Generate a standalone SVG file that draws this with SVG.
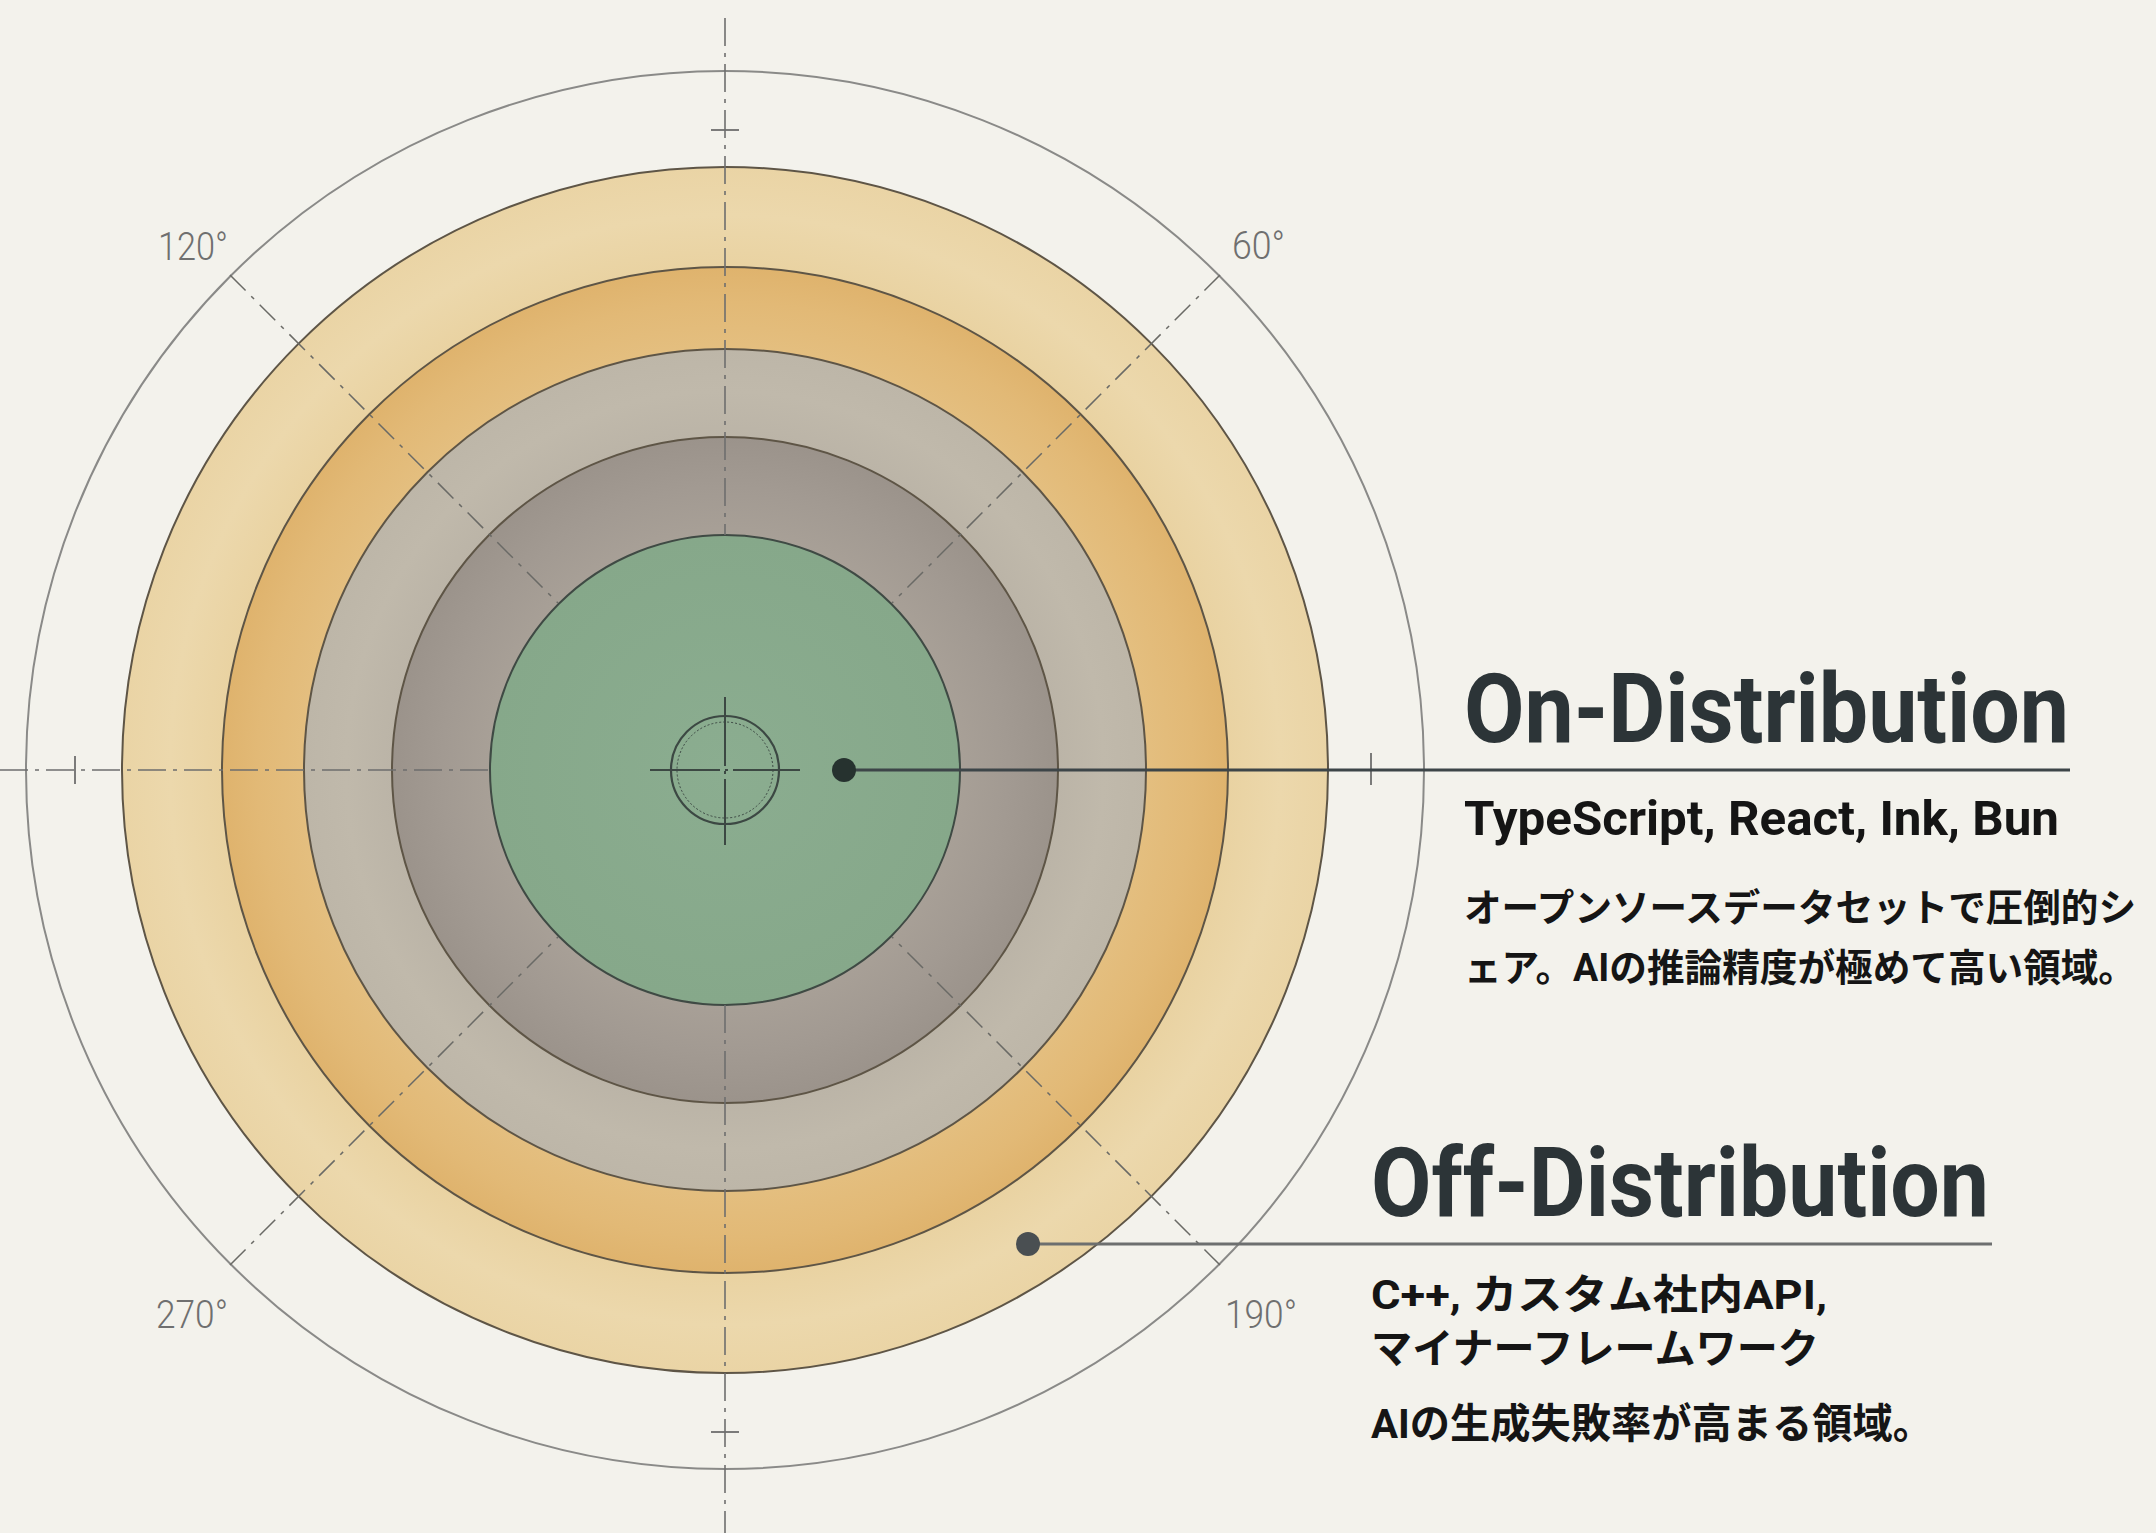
<svg xmlns="http://www.w3.org/2000/svg" width="2156" height="1533" viewBox="0 0 2156 1533">
<style>
.ring{stroke:#5e5546;stroke-width:2}
.axis{stroke:#6e6e6e;stroke-width:1.6;stroke-dasharray:28 7 4 7;fill:none}
.diag{stroke:#6a6a66;stroke-width:1.5;stroke-dasharray:22 8 4 8;fill:none}
.tick{stroke:#6e6e6e;stroke-width:1.8}
.deg{font-family:Roboto,"Liberation Sans",sans-serif;font-weight:300;font-size:38px;fill:#6f6f6f}
.title{font-family:Roboto,"Noto Sans","Liberation Sans",sans-serif;font-weight:700;font-size:97px;fill:#2c3437}
.sub{font-family:Roboto,"Noto Sans CJK JP",sans-serif;font-weight:700;font-size:48px;fill:#151515}
.jp{font-family:"Noto Sans CJK JP",sans-serif;font-weight:700;font-size:41px;fill:#151515}
.jpb{font-family:Roboto,"Noto Sans CJK JP",sans-serif;font-weight:700;font-size:41px;fill:#151515}
.jps{font-size:38px}
</style>
<defs>
<radialGradient id="gTan" gradientUnits="userSpaceOnUse" cx="725" cy="770" r="603">
<stop offset="0.83" stop-color="#e9d2a1"/><stop offset="0.92" stop-color="#ecd8ac"/><stop offset="1" stop-color="#ead4a5"/>
</radialGradient>
<radialGradient id="gOr" gradientUnits="userSpaceOnUse" cx="725" cy="770" r="503">
<stop offset="0.83" stop-color="#e4bf80"/><stop offset="0.93" stop-color="#e2b976"/><stop offset="1" stop-color="#dfb36d"/>
</radialGradient>
<radialGradient id="gLg" gradientUnits="userSpaceOnUse" cx="725" cy="770" r="421">
<stop offset="0.79" stop-color="#bbb4a7"/><stop offset="0.9" stop-color="#c0b9ab"/><stop offset="1" stop-color="#bdb6a8"/>
</radialGradient>
<radialGradient id="gDg" gradientUnits="userSpaceOnUse" cx="725" cy="770" r="333">
<stop offset="0.7" stop-color="#a8a097"/><stop offset="0.85" stop-color="#a29a92"/><stop offset="1" stop-color="#9b938b"/>
</radialGradient>
<radialGradient id="gGr" gradientUnits="userSpaceOnUse" cx="725" cy="770" r="235">
<stop offset="0" stop-color="#8bad90"/><stop offset="1" stop-color="#86a88a"/>
</radialGradient>
</defs>
<rect x="0" y="0" width="2156" height="1533" fill="#f3f2ec"/>

<g id="frame">
<circle cx="725" cy="770" r="699" fill="none" stroke="#8a8a88" stroke-width="2"/>
</g>

<g id="ring-outer"><circle class="ring" cx="725" cy="770" r="603" fill="url(#gTan)"/></g>
<g id="ring-orange"><circle class="ring" cx="725" cy="770" r="503" fill="url(#gOr)"/></g>
<g id="ring-lightgrey"><circle class="ring" cx="725" cy="770" r="421" fill="url(#gLg)"/></g>
<g id="ring-darkgrey"><circle class="ring" cx="725" cy="770" r="333" fill="url(#gDg)"/></g>
<g id="core"><circle cx="725" cy="770" r="235" fill="url(#gGr)" stroke="#3f4a44" stroke-width="2"/></g>

<g id="guides">
<line class="axis" x1="725" y1="18" x2="725" y2="535"/>
<line class="axis" x1="725" y1="1005" x2="725" y2="1533"/>
<line class="axis" x1="0" y1="770" x2="490" y2="770"/>
<line class="diag" x1="230" y1="275" x2="558" y2="603"/>
<line class="diag" x1="1220" y1="275" x2="892" y2="603"/>
<line class="diag" x1="230" y1="1265" x2="558" y2="937"/>
<line class="diag" x1="1220" y1="1265" x2="892" y2="937"/>
<line class="tick" x1="711" y1="130" x2="739" y2="130"/>
<line class="tick" x1="711" y1="1432" x2="739" y2="1432"/>
<line class="tick" x1="75" y1="756" x2="75" y2="784"/>
<line class="tick" x1="1371" y1="753" x2="1371" y2="785"/>
</g>

<g id="center-mark" fill="none" stroke="#3c4843">
<circle cx="725" cy="770" r="54" stroke-width="2.2"/>
<circle cx="725" cy="770" r="48" stroke-width="1" stroke-dasharray="2 2"/>
<line x1="650" y1="770" x2="800" y2="770" stroke-width="2" stroke-dasharray="70 5 3 5 70"/>
<line x1="725" y1="697" x2="725" y2="845" stroke-width="2" stroke-dasharray="69 5 3 5 70"/>
</g>

<g id="labels">
<text class="deg" x="158" y="260" textLength="70" lengthAdjust="spacingAndGlyphs">120°</text>
<text class="deg" x="1232" y="259" textLength="53" lengthAdjust="spacingAndGlyphs">60°</text>
<text class="deg" x="156" y="1328" textLength="72" lengthAdjust="spacingAndGlyphs">270°</text>
<text class="deg" x="1225" y="1328" textLength="72" lengthAdjust="spacingAndGlyphs">190°</text>
</g>

<g id="connectors">
<line x1="844" y1="770" x2="2070" y2="770" stroke="#3d4548" stroke-width="3.2"/>
<circle cx="844" cy="770" r="12" fill="#26322f"/>
<line x1="1028" y1="1244" x2="1992" y2="1244" stroke="#6d6f6f" stroke-width="3.2"/>
<circle cx="1028" cy="1244" r="12" fill="#4a4f52"/>
</g>

<g id="on-distribution">
<text class="title" x="1464" y="742" textLength="605" lengthAdjust="spacingAndGlyphs">On-Distribution</text>
<text class="sub" x="1464" y="835" textLength="595" lengthAdjust="spacingAndGlyphs">TypeScript, React, Ink, Bun</text>
<text class="jp jps" x="1464" y="921" textLength="672" lengthAdjust="spacingAndGlyphs">オープンソースデータセットで圧倒的シ</text>
<text class="jpb jps" x="1464" y="981" textLength="672" lengthAdjust="spacingAndGlyphs">ェア。AIの推論精度が極めて高い領域。</text>
</g>

<g id="off-distribution">
<text class="title" x="1371" y="1216" textLength="618" lengthAdjust="spacingAndGlyphs">Off-Distribution</text>
<text class="jpb" x="1371" y="1309" textLength="456" lengthAdjust="spacingAndGlyphs">C++, カスタム社内API,</text>
<text class="jp" x="1371" y="1363" textLength="448" lengthAdjust="spacingAndGlyphs">マイナーフレームワーク</text>
<text class="jpb" x="1371" y="1438" textLength="562" lengthAdjust="spacingAndGlyphs">AIの生成失敗率が高まる領域。</text>
</g>
</svg>
